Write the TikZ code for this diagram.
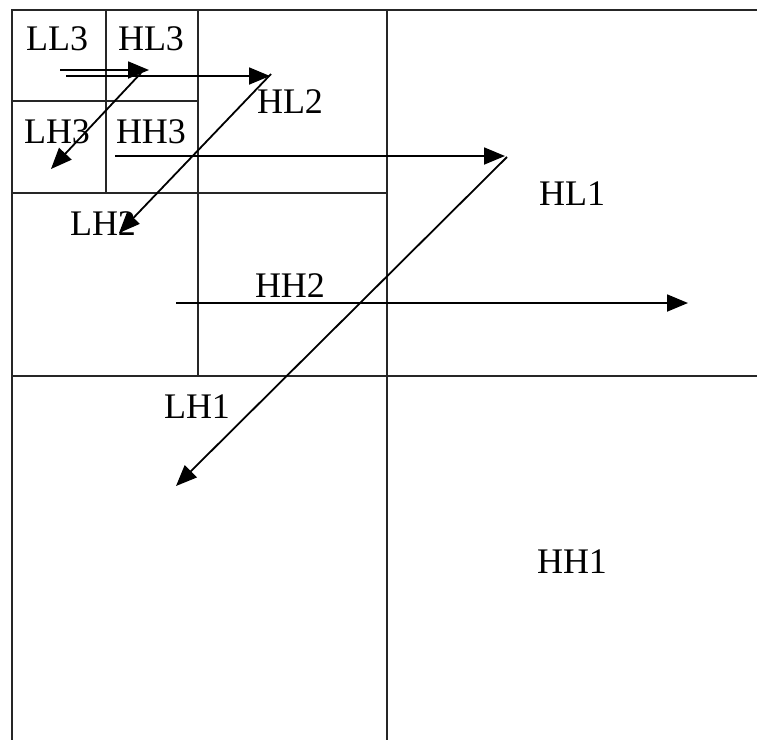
\documentclass[tikz,border=0pt]{standalone}
\usepackage{fontspec}
\setmainfont{Liberation Serif}
\usetikzlibrary{arrows.meta}
\begin{document}
\begin{tikzpicture}[x=1pt,y=-1pt,
  grid/.style={line width=2pt,black!85},
  lab/.style={inner sep=0pt,anchor=base,font=\fontsize{36}{40}\selectfont},
  arr/.style={line width=1.8pt,-{Triangle[length=21pt,width=17pt]}}]
\useasboundingbox (0,0) rectangle (757,740);
\fill[white] (0,0) rectangle (757,740);
% grid
\draw[grid] (757,10) -- (12,10) -- (12,740);
\draw[grid] (387,10) -- (387,740);
\draw[grid] (12,376) -- (757,376);
\draw[grid] (12,193) -- (387,193);
\draw[grid] (198,10) -- (198,376);
\draw[grid] (12,101) -- (198,101);
\draw[grid] (106,10) -- (106,193);
% labels
\node[lab] (LL3) at (57,50) {LL3};
\node[lab] (HL3) at (151,50) {HL3};
\node[lab] (LH3) at (57,143) {LH3};
\node[lab] (HH3) at (151,143) {HH3};
\node[lab] (HL2) at (290,113) {HL2};
\node[lab] (LH2) at (103,235) {LH2};
\node[lab] (HH2) at (290,297) {HH2};
\node[lab] (HL1) at (572,205) {HL1};
\node[lab] (LH1) at (197,418) {LH1};
\node[lab] (HH1) at (572,573) {HH1};
% arrow end points
\coordinate (a1s) at (60,70);
\coordinate (a1e) at (149,70);
\coordinate (a2s) at (66,76);
\coordinate (a2e) at (270,76);
\coordinate (d1s) at (141,73);
\coordinate (d1e) at (51,169);
\coordinate (d2s) at (271,74);
\coordinate (d2e) at (119,233);
\coordinate (h3s) at (115,156);
\coordinate (h3e) at (505,156);
\coordinate (d3s) at (507,157);
\coordinate (d3e) at (176,486);
\coordinate (h2s) at (176,303);
\coordinate (h2e) at (688,303);
% arrows
\draw[arr] (a1s) -- (a1e);
\draw[arr] (a2s) -- (a2e);
\draw[arr] (d1s) -- (d1e);
\draw[arr] (d2s) -- (d2e);
\draw[arr] (h3s) -- (h3e);
\draw[arr] (d3s) -- (d3e);
\draw[arr] (h2s) -- (h2e);
\end{tikzpicture}
\end{document}
